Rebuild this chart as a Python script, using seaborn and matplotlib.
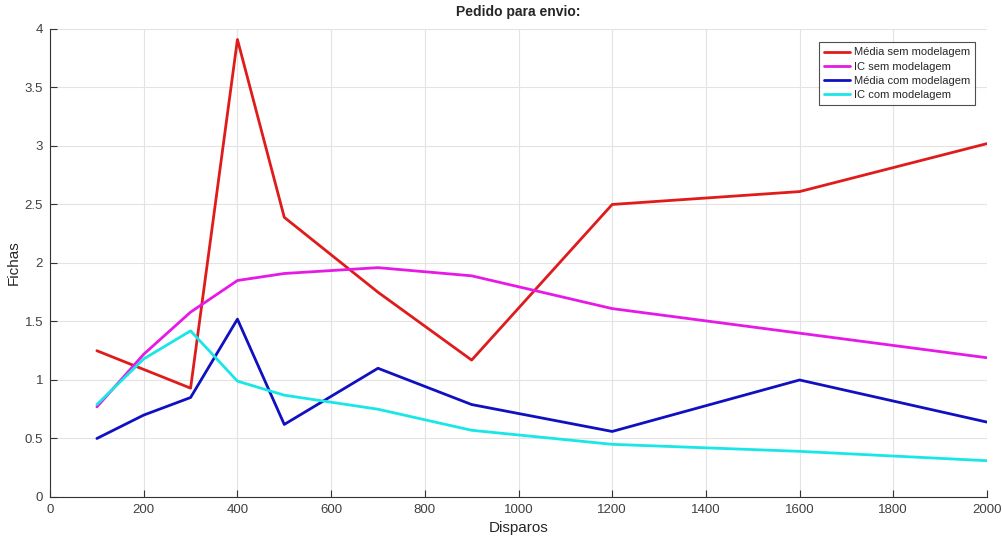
import matplotlib
matplotlib.use("Agg")
import matplotlib.pyplot as plt
import seaborn as sns
import pandas as pd

disparos = [100, 200, 300, 400, 500, 700, 900, 1200, 1600, 2000]
media_sem = [1.25, 1.09, 0.93, 3.91, 2.39, 1.75, 1.17, 2.50, 2.61, 3.02]
ic_sem = [0.77, 1.22, 1.58, 1.85, 1.91, 1.96, 1.89, 1.61, 1.40, 1.19]
media_com = [0.50, 0.70, 0.85, 1.52, 0.62, 1.10, 0.79, 0.56, 1.00, 0.64]
ic_com = [0.79, 1.18, 1.42, 0.99, 0.87, 0.75, 0.57, 0.45, 0.39, 0.31]
series_names = ["Média sem modelagem", "IC sem modelagem", "Média com modelagem", "IC com modelagem"]
colors = ["#e01b1b", "#e619e6", "#1010c0", "#19e6e6"]

frames = []
for name, vals in zip(series_names, [media_sem, ic_sem, media_com, ic_com]):
    frames.append(pd.DataFrame({"Disparos": disparos, "Fichas": vals, "serie": name}))
df = pd.concat(frames, ignore_index=True)

sns.set_style("white")
plt.rcParams["font.family"] = ["Liberation Sans", "DejaVu Sans"]

fig = plt.figure(figsize=(10.03, 5.36), dpi=100)
ax = fig.add_axes([0.0499, 0.0728, 0.9341, 0.8732])
sns.lineplot(data=df, x="Disparos", y="Fichas", hue="serie", hue_order=series_names,
             palette=colors, linewidth=2, ax=ax, sort=False)

ax.set_xlim(0, 2000)
ax.set_ylim(0, 4)
ax.set_xticks(range(0, 2001, 200))
ax.set_yticks([0, 0.5, 1, 1.5, 2, 2.5, 3, 3.5, 4])
ax.set_yticklabels(["0", "0.5", "1", "1.5", "2", "2.5", "3", "3.5", "4"])
ax.grid(True, color="#e3e3e3", linewidth=0.8)
ax.set_axisbelow(True)
for side in ["top", "right"]:
    ax.spines[side].set_visible(False)
for side in ["left", "bottom"]:
    ax.spines[side].set_color("#333333")
    ax.spines[side].set_linewidth(0.8)
ax.tick_params(axis="both", which="major", bottom=True, left=True, direction="in", length=5,
               width=0.8, colors="#333333", labelsize=9.5, labelcolor="#404040", pad=5)
ax.set_xlabel("Disparos", fontsize=11, color="#262626", labelpad=4)
ax.set_ylabel("Fichas", fontsize=11, color="#262626", labelpad=3)
ax.set_title("Pedido para envio:", fontsize=10, fontweight="bold", pad=9)

leg = ax.legend(loc="upper right", bbox_to_anchor=(0.993, 0.983), fontsize=8, frameon=True,
                fancybox=False, edgecolor="#222222", handlelength=2.4, handletextpad=0.3,
                labelspacing=0.38, borderpad=0.45)
leg.get_frame().set_linewidth(0.8)

fig.savefig("out.png", dpi=100)
